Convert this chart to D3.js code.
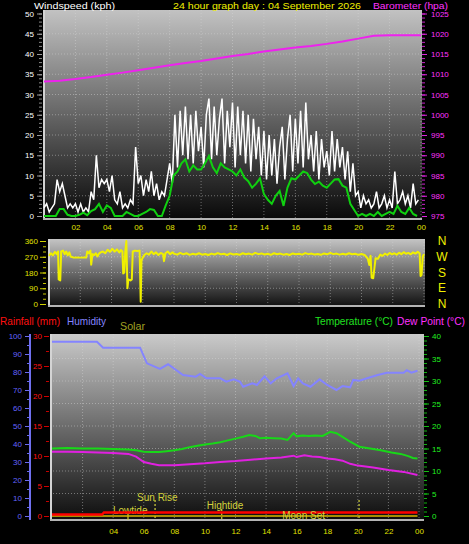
<!DOCTYPE html>
<html><head><meta charset="utf-8">
<script src="https://cdn.jsdelivr.net/npm/d3@7"></script>
<style>html,body{margin:0;padding:0;background:#000;overflow:hidden}svg{display:block}</style>
</head><body>
<svg id="c" width="469" height="544"></svg>
<script>
// ---------------- DATA ----------------
const tickHours = [2,4,6,8,10,12,14,16,18,20,22,24];
const timeLabels = ["02","04","06","08","10","12","14","16","18","20","22","00"];
const bottomTickHours = [4,6,8,10,12,14,16,18,20,22,24];
const bottomTimeLabels = ["04","06","08","10","12","14","16","18","20","22","00"];

// gust, 10-minute values (kph)
const gustKph = [
 2,3,1,2,3,9, 6,8,5,2,3,2, 3,1,3,1,2,1, 6,4,15,7,9,8, 9,6,10,4,3,6, 2,3,2,4,3,17,
 8,10,5,9,6,11, 5,8,4,6,5,9, 13,8,25,12,26,15, 27,14,25,13,26,16, 22,12,25,29,14,27, 15,24,29,13,26,17,
 28,12,27,15,26,13, 25,11,24,14,22,10, 21,9,20,10,19,8, 17,22,9,19,25,11, 24,13,26,12,28,14, 20,11,21,9,19,12,
 16,10,21,11,19,12, 17,9,16,6,13,5, 6,2,5,3,4,2, 3,6,2,3,5,2, 4,2,11,3,4,6, 3,5,2,8,3,4];
// average wind, 15-minute values (kph)
const avgKph = [
 0,0,0,0, 1.7,1.7,0.3,0, 0,0.3,0.8,0.2, 1.2,1.7,3.0,1.0, 2.6,2.0,0,0, 0,1.0,0.5,0,
 0,0.5,1.0,1.7, 1.5,0,0,2.6, 5,10,11,13, 14,11,12.5,11.5, 11.5,13,14.8,12, 10.6,13,12,11.5,
 11,10,11.5,9.5, 8.6,7,8,9.3, 5.4,4,3,5, 6.2,2.5,7,9.3, 9,10,11,10.6, 9,7.9,8.5,7.5,
 7,8,9,9.1, 7.5,7,3,1.5, 0,0.5,0,0.5, 0,1,0,0.5, 1,0.5,2.5,1, 0.5,2,0.5,0];
// barometer, hourly (hPa)
const baroHpa = [1008.2,1008.4,1008.8,1009.3,1009.9,1010.4,1011.0,1011.6,1012.2,1012.8,1013.3,1013.9,
 1014.5,1015.0,1015.6,1016.1,1016.6,1017.0,1017.5,1018.1,1018.8,1019.5,1019.6,1019.6,1019.6];

// wind direction
const dirHours = [0,0.12,0.25,0.38,0.5,0.58,0.62,0.72,0.78,0.9,1.0,1.1,1.2,1.3,1.4,1.6,1.8,2.0,2.2,2.38,2.45,2.55,2.65,2.7,2.78,2.9,
 3.0,3.1,3.2,3.3,3.45,3.6,3.75,3.9,4.05,4.2,4.35,4.5,4.6,4.7,4.75,4.82,4.88,4.95,5.02,5.08,5.22,5.3,5.36,5.5,5.65,5.8,5.87,5.92,
 6.0,6.1,6.25,6.4,6.55,6.7,6.85,7.0,7.15,7.3,7.36,7.45,7.6,7.75,7.9,
 8.0,8.2,8.4,8.6,8.8,9.0,9.2,9.4,9.6,9.8,10.0,10.2,10.4,10.6,10.8,11.0,11.2,11.4,11.6,11.8,12.0,12.2,12.4,12.6,12.8,
 13.0,13.2,13.4,13.6,13.8,14.0,14.2,14.4,14.6,14.8,15.0,15.2,15.4,15.6,15.8,16.0,16.2,16.4,16.6,16.8,17.0,17.2,17.4,17.6,17.8,
 18.0,18.2,18.4,18.6,18.8,19.0,19.2,19.4,19.6,19.8,20.0,20.2,
 20.3,20.4,20.5,20.58,20.65,20.75,20.82,20.9,21.05,21.2,21.35,21.5,21.65,21.8,21.95,22.1,22.25,22.4,22.55,22.7,22.85,
 23.0,23.15,23.3,23.45,23.6,23.72,23.78,23.84,23.92,24.0];
const dirDeg = [275,290,278,298,285,300,140,135,300,305,285,300,278,295,270,265,266,265,266,265,300,290,305,225,285,280,
 290,272,288,295,300,290,310,298,315,300,312,295,308,300,175,180,300,360,90,140,135,140,300,305,303,305,13,250,
 265,280,290,282,300,285,295,280,292,285,245,290,300,285,295,
 288,282,292,284,290,281,287,283,290,282,286,280,288,283,291,284,287,280,289,283,286,281,290,284,288,
 282,292,285,289,283,287,281,290,284,288,282,286,280,289,284,287,282,291,285,288,283,286,281,289,284,
 292,285,288,282,287,283,290,284,287,281,286,280,
 270,260,223,275,150,147,200,262,258,282,275,288,280,292,284,290,282,293,285,296,287,
 292,284,295,288,298,290,160,165,272,285];
const compassLabels = ["N","W","S","E","N"];
const compassDeg = [360,270,180,90,0];

// humidity (%)
const humHours = [0,2.94,3.34,5.76,6.21,7.06,7.59,8.57,9.4,9.68,10.1,11.0,11.4,11.9,12.3,12.5,13.1,13.4,13.9,14.3,14.7,
 15.4,15.8,16.1,16.4,16.9,17.5,18.0,18.6,19.0,19.5,19.7,20.1,20.6,21.3,21.9,23.0,23.2,23.5,23.9];
const humPct = [96.8,96.8,93.5,93.5,84.8,81.7,84.3,78.3,77.4,78.9,76.5,76.5,74.6,75.9,74.6,71.8,73.7,72.8,77.6,73.7,76.5,
 79.3,72.2,76.5,73.7,71.8,75.9,72.8,70.0,72.2,71.5,75.6,75.2,76.5,78.3,79.6,79.6,81.0,79.6,80.7];
// temperature and dew point (°C)
const tempHours = [0,1,2,3,4,5,5.5,6,6.5,7,7.5,8,8.5,9,9.5,10,10.5,11,11.5,12,12.5,12.9,13.3,13.6,14,14.5,15,15.4,15.8,16.0,
 16.4,16.8,17.2,17.7,18.2,18.6,19.0,19.5,20.1,20.8,21.5,22.2,22.8,23.3,23.6,23.9];
const tempC = [15.0,15.1,15.0,15.0,14.9,14.8,14.6,14.3,14.2,14.2,14.4,14.6,14.9,15.3,15.6,15.9,16.1,16.4,16.8,17.2,17.6,18.0,17.8,17.3,
 17.4,17.3,17.2,16.9,18.4,17.7,17.9,17.8,17.9,17.8,18.7,18.4,17.6,16.5,15.4,15.0,14.6,14.1,13.8,13.3,12.9,12.8];
const dewHours = [0,1,2,3,4,5,5.5,6,6.5,7,8,9,10,11,12,13,14,15,15.8,16,16.5,17,17.5,18,18.5,19,19.5,20,21,22,23,23.9];
const dewC = [14.3,14.3,14.2,14.1,14.0,13.8,13.2,12.0,11.6,11.3,11.3,11.5,11.7,12.0,12.2,12.5,12.8,13.0,13.4,13.1,13.5,13.2,
 13.1,12.8,12.6,12.3,11.6,11.2,10.8,10.2,9.8,9.1];
// rainfall (mm) and solar
const rainHours = [0,3.27,3.4,23.9];
const rainMm = [0.25,0.25,0.6,0.6];
const solarHours = [0,23.9];
const solarVal = [0,0];
// almanac markers
const markerNames = ["Sun Rise","Lowtide","Hightide","Moon Set",""];
const markerHours = [6.74,4.97,11.1,16.1,20.08];

// ---------------- DRAW ----------------
const FONT = "'Liberation Sans', Arial, Helvetica, sans-serif";
const svg = d3.select("#c");
svg.append("rect").attr("width",469).attr("height",544).attr("fill","#000");
const defs = svg.append("defs");
function grad(id,c0,c1){
  const g = defs.append("linearGradient").attr("id",id).attr("x1",0).attr("y1",0).attr("x2",0).attr("y2",1);
  g.append("stop").attr("offset","0%").attr("stop-color",c0);
  g.append("stop").attr("offset","100%").attr("stop-color",c1);
}
grad("gTop","#c2c2c2","#080808");
grad("gMid","#c4c4c4","#0e0e0e");
grad("gBot","#cacaca","#0c0c0c");

function panel(x0,y0,x1,y1,gid){
  svg.append("rect").attr("x",x0).attr("y",y0).attr("width",x1-x0).attr("height",y1-y0).attr("fill",`url(#${gid})`);
}
function frame(x0,y0,x1,y1){
  svg.append("line").attr("x1",x0+1).attr("x2",x0+1).attr("y1",y0).attr("y2",y1).attr("stroke","#d4d4d4").attr("stroke-width",2);
  svg.append("line").attr("x1",x0).attr("x2",x1).attr("y1",y1-1).attr("y2",y1-1).attr("stroke","#b4b4b4").attr("stroke-width",2);
}
function vgrid(xs, y0, y1){
  svg.append("g").selectAll("line").data(tickHours).join("line")
    .attr("x1",d=>xs(d)).attr("x2",d=>xs(d)).attr("y1",y0).attr("y2",y1)
    .attr("stroke","#d8d8d8").attr("stroke-opacity",0.45).attr("stroke-dasharray","1,2");
}
function hgrid(ys, vals, x0, x1){
  svg.append("g").selectAll("line").data(vals).join("line")
    .attr("x1",x0).attr("x2",x1).attr("y1",d=>ys(d)).attr("y2",d=>ys(d))
    .attr("stroke","#d8d8d8").attr("stroke-opacity",0.45).attr("stroke-dasharray","1,2");
}
function styleAxis(g, color, labelColor, size){
  g.select(".domain").remove();
  g.selectAll("line").attr("stroke",color);
  g.selectAll("text").attr("fill",labelColor).attr("font-family",FONT).attr("font-size",size||8);
}

// ===== TOP PANEL =====
const tX0=43, tX1=422, tY0=10, tY1=220;
panel(tX0,tY0,tX1,tY1,"gTop");
const xTop = d3.scaleLinear().domain([0,24]).range([44,421]);
const yWind = d3.scaleLinear().domain([0,50]).range([216,13.5]);
const yBaro = d3.scaleLinear().domain([975,1025]).range([216,13.5]);
hgrid(yWind, d3.range(5,50,5), tX0, tX1);
vgrid(xTop, tY0, tY1);
frame(tX0,tY0,tX1,tY1);

svg.append("path").datum(gustKph).attr("fill","none").attr("stroke","#ffffff").attr("stroke-width",1.5)
  .attr("d", d3.line().x((d,i)=>xTop(i/6)).y(d=>yWind(d)));
svg.append("path").datum(avgKph).attr("fill","none").attr("stroke","#10d010").attr("stroke-width",2)
  .attr("d", d3.line().x((d,i)=>xTop(i/4)).y(d=>yWind(d)));
svg.append("path").datum(baroHpa).attr("fill","none").attr("stroke","#ee22ee").attr("stroke-width",2)
  .attr("d", d3.line().x((d,i)=>xTop(i)).y(d=>yBaro(d)));

// wind axis
let g = svg.append("g").attr("transform","translate(42,0)")
  .call(d3.axisLeft(yWind).tickValues(d3.range(0,51,1)).tickSize(3).tickFormat(""));
styleAxis(g,"#8a8a8a","#fff");
g = svg.append("g").attr("transform","translate(42,0)")
  .call(d3.axisLeft(yWind).tickValues(d3.range(0,51,5)).tickSize(5).tickPadding(3).tickFormat(d3.format("d")));
styleAxis(g,"#9a9a9a","#ffffff");
// baro axis
g = svg.append("g").attr("transform","translate(422,0)")
  .call(d3.axisRight(yBaro).tickValues(d3.range(975,1026,1)).tickSize(3).tickFormat(""));
styleAxis(g,"#cc22cc","#f0f");
g = svg.append("g").attr("transform","translate(422,0)")
  .call(d3.axisRight(yBaro).tickValues(d3.range(975,1026,5)).tickSize(5).tickPadding(4).tickFormat(d3.format("d")));
styleAxis(g,"#dd22dd","#ff33ff");
// time axis
g = svg.append("g").attr("transform",`translate(0,${tY1})`)
  .call(d3.axisBottom(xTop).tickValues(tickHours).tickSize(0).tickPadding(4).tickFormat((d,i)=>timeLabels[i]));
styleAxis(g,"#000","#e0e000");

// header
function txt(x,y,s,color,size,len){
  const t = svg.append("text").attr("x",x).attr("y",y).text(s).attr("fill",color)
    .attr("font-family",FONT).attr("font-size",size);
  if(len) t.attr("textLength",len).attr("lengthAdjust","spacingAndGlyphs");
  return t;
}
txt(34,8.7,"Windspeed (kph)","#ffffff",9.5,81);
txt(173,8.7,"24 hour graph day : 04 September 2026","#f0f000",9.5,188);
txt(373,8.7,"Barometer (hpa)","#ff33ff",9.5,75);

// ===== MIDDLE PANEL =====
const mX0=48, mX1=425, mY0=239, mY1=307;
panel(mX0,mY0,mX1,mY1,"gMid");
const xMid = d3.scaleLinear().domain([0,24]).range([49,424]);
const yDir = d3.scaleLinear().domain([0,360]).range([304,241]);
hgrid(yDir,[90,180,270],mX0,mX1);
vgrid(xMid,mY0,mY1);
frame(mX0,mY0,mX1,mY1);
svg.append("path").datum(dirHours.map((h,i)=>[h,dirDeg[i]])).attr("fill","none")
  .attr("stroke","#f0f000").attr("stroke-width",2).attr("stroke-linejoin","round")
  .attr("d", d3.line().x(d=>xMid(d[0])).y(d=>yDir(d[1])));
g = svg.append("g").attr("transform","translate(46,0)")
  .call(d3.axisLeft(yDir).tickValues(d3.range(0,361,30)).tickSize(3).tickFormat(""));
styleAxis(g,"#c8c800","#ff0");
g = svg.append("g").attr("transform","translate(46,0)")
  .call(d3.axisLeft(yDir).tickValues([0,90,180,270,360]).tickSize(6).tickPadding(2).tickFormat(d3.format("d")));
styleAxis(g,"#d0d000","#e0e000");
svg.append("g").selectAll("text").data(compassLabels).join("text")
  .attr("x",442).attr("y",(d,i)=>yDir(compassDeg[i])+4).attr("text-anchor","middle")
  .attr("fill","#f0f000").attr("font-family",FONT).attr("font-size",12).text(d=>d);

// ===== BOTTOM PANEL =====
const bX0=50, bX1=424, bY0=334, bY1=521;
panel(bX0,bY0,bX1,bY1,"gBot");
const xBot = d3.scaleLinear().domain([0,24]).range([52,419]);
const yHum = d3.scaleLinear().domain([0,100]).range([516,336]);
const yRain = d3.scaleLinear().domain([0,30]).range([516,336]);
const yTemp = d3.scaleLinear().domain([0,40]).range([516,336]);
hgrid(yTemp, d3.range(5,40,5), bX0, bX1);
vgrid(xBot,bY0,bY1);
frame(bX0,bY0,bX1,bY1);

// markers
const mk = svg.append("g");
const mkColor = "#d2d23c";
mk.append("line").attr("x1",xBot(markerHours[0])).attr("x2",xBot(markerHours[0])).attr("y1",500).attr("y2",520)
  .attr("stroke",mkColor).attr("stroke-width",1.2).attr("stroke-dasharray","2,2");
txt(xBot(markerHours[0])-18,501,markerNames[0],mkColor,10);
mk.append("line").attr("x1",xBot(markerHours[1])).attr("x2",xBot(markerHours[1])).attr("y1",513).attr("y2",520)
  .attr("stroke",mkColor).attr("stroke-width",1.2);
txt(xBot(markerHours[1])-15,513.5,markerNames[1],mkColor,10);
mk.append("line").attr("x1",xBot(markerHours[2])).attr("x2",xBot(markerHours[2])).attr("y1",509).attr("y2",520)
  .attr("stroke",mkColor).attr("stroke-width",1.2).attr("stroke-dasharray","2,2");
txt(xBot(markerHours[2])-15,508.5,markerNames[2],mkColor,10);
mk.append("line").attr("x1",xBot(markerHours[4])).attr("x2",xBot(markerHours[4])).attr("y1",500).attr("y2",520)
  .attr("stroke",mkColor).attr("stroke-width",1.2).attr("stroke-dasharray","2,2");

const line2 = (xs,ys)=>d3.line().x(d=>xs(d[0])).y(d=>ys(d[1]));
svg.append("path").datum(solarHours.map((h,i)=>[h,solarVal[i]])).attr("fill","none").attr("stroke","#d8b800").attr("stroke-width",1.6)
  .attr("d", line2(xBot,yRain));
svg.append("path").datum(rainHours.map((h,i)=>[h,rainMm[i]])).attr("fill","none").attr("stroke","#ff0000").attr("stroke-width",2.5)
  .attr("d", line2(xBot,yRain));
txt(xBot(markerHours[3])-16,519,markerNames[3],mkColor,10);
svg.append("path").datum(humHours.map((h,i)=>[h,humPct[i]])).attr("fill","none").attr("stroke","#8484ff").attr("stroke-width",2)
  .attr("d", line2(xBot,yHum));
svg.append("path").datum(tempHours.map((h,i)=>[h,tempC[i]])).attr("fill","none").attr("stroke","#18d818").attr("stroke-width",2)
  .attr("d", line2(xBot,yTemp));
svg.append("path").datum(dewHours.map((h,i)=>[h,dewC[i]])).attr("fill","none").attr("stroke","#e020e0").attr("stroke-width",2)
  .attr("d", line2(xBot,yTemp));

// humidity axis
svg.append("line").attr("x1",30).attr("x2",30).attr("y1",334).attr("y2",520).attr("stroke","#7070f0").attr("stroke-width",2);
g = svg.append("g").attr("transform","translate(30,0)")
  .call(d3.axisLeft(yHum).tickValues(d3.range(0,101,5)).tickSize(3).tickFormat(""));
styleAxis(g,"#6a6af0","#66f");
g = svg.append("g").attr("transform","translate(30,0)")
  .call(d3.axisLeft(yHum).tickValues(d3.range(0,101,10)).tickSize(5).tickPadding(3).tickFormat(d3.format("d")));
styleAxis(g,"#6a6af0","#6464ff");
// rain axis
g = svg.append("g").attr("transform","translate(49,0)")
  .call(d3.axisLeft(yRain).tickValues(d3.range(0,31,2.5)).tickSize(3).tickFormat(""));
styleAxis(g,"#c00000","#f00");
g = svg.append("g").attr("transform","translate(49,0)")
  .call(d3.axisLeft(yRain).tickValues(d3.range(0,31,5)).tickSize(5).tickPadding(2).tickFormat(d3.format("d")));
styleAxis(g,"#d00000","#ff1010");
// temp axis
g = svg.append("g").attr("transform","translate(424,0)")
  .call(d3.axisRight(yTemp).tickValues(d3.range(0,41,1)).tickSize(3).tickFormat(""));
styleAxis(g,"#10b010","#0f0");
g = svg.append("g").attr("transform","translate(424,0)")
  .call(d3.axisRight(yTemp).tickValues(d3.range(0,41,5)).tickSize(5).tickPadding(3).tickFormat(d3.format("d")));
styleAxis(g,"#10c010","#20f020");
// time axis
g = svg.append("g").attr("transform",`translate(0,${bY1})`)
  .call(d3.axisBottom(xBot).tickValues(bottomTickHours).tickSize(0).tickPadding(7).tickFormat((d,i)=>bottomTimeLabels[i]));
styleAxis(g,"#000","#e0e000");

// legend
txt(0,325,"Rainfall (mm)","#ff1010",11,60);
txt(67,325,"Humidity","#8484ff",11,39);
txt(120,330,"Solar","#a0a020",11,25);
txt(315,325,"Temperature (°C)","#20e020",11,78);
txt(397,325,"Dew Point (°C)","#ff30ff",11,68);
</script>
</body></html>
